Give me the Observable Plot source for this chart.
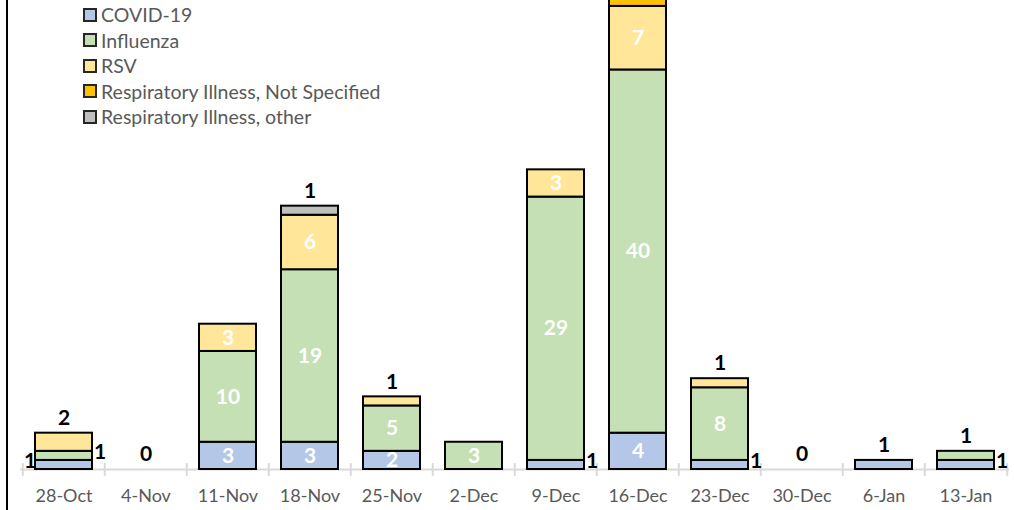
<!DOCTYPE html>
<html>
<head>
<meta charset="utf-8">
<script src="https://cdn.jsdelivr.net/npm/d3@7"></script>
<script src="https://cdn.jsdelivr.net/npm/@observablehq/plot@0.6"></script>
<style>
  html, body { margin: 0; padding: 0; background: #fff; }
  #wrap { position: relative; width: 1014px; height: 510px; overflow: hidden; font-family: Lato, "Open Sans", sans-serif; }
  #border { position: absolute; left: 6px; top: 0; width: 2px; height: 510px; background: #000; }
  #legend { position: absolute; left: 83px; top: 2px; }
  .row { display: flex; align-items: center; height: 25.5px; font-size: 19.5px; color: #595959; }
  .sw { width: 10px; height: 10px; border: 2px solid #262626; margin-right: 4px; flex: none; }
</style>
</head>
<body>
<div id="wrap"><div id="border"></div><div id="legend"></div></div>
<script>
const weeks = ["28-Oct","4-Nov","11-Nov","18-Nov","25-Nov","2-Dec","9-Dec","16-Dec","23-Dec","30-Dec","6-Jan","13-Jan"];
const seriesNames = ["COVID-19","Influenza","RSV","Respiratory Illness, Not Specified","Respiratory Illness, other"];
const seriesColors = ["#b4c7e7","#c5e0b4","#ffe699","#ffc000","#bfbfbf"];
const covid    = [1,0,3,3,2,0,1,4,1,0,1,1];
const influenza= [1,0,10,19,5,3,29,40,8,0,0,1];
const rsv      = [2,0,3,6,1,0,3,7,1,0,0,0];
const notSpec  = [0,0,0,0,0,0,0,1,0,0,0,0];
const other    = [0,0,0,1,0,0,0,0,0,0,0,0];
// labels not drawn inside their segment: [week, series index, side]
const outsideLabels = [
  ["28-Oct",0,"left"],["28-Oct",1,"right"],["28-Oct",2,"top"],
  ["4-Nov",0,"top"],["18-Nov",4,"top"],["25-Nov",2,"top"],
  ["9-Dec",0,"right"],["16-Dec",3,"none"],["23-Dec",0,"right"],["23-Dec",2,"top"],
  ["30-Dec",0,"top"],["6-Jan",0,"top"],["13-Jan",0,"right"],["13-Jan",1,"top"]
];

const allSeries = [covid, influenza, rsv, notSpec, other];
const data = [];
allSeries.forEach((vals, si) => {
  vals.forEach((v, wi) => data.push({week: weeks[wi], series: seriesNames[si], si, value: v}));
});
const outsideKey = new Set(outsideLabels.map(d => d[0] + "|" + d[1]));

function segBounds(wi, si) {
  let lo = 0;
  for (let k = 0; k < si; k++) lo += allSeries[k][wi];
  return [lo, lo + allSeries[si][wi]];
}
function total(wi) { return allSeries.reduce((s, a) => s + a[wi], 0); }
const outData = outsideLabels.map(([w, si, side]) => {
  const wi = weeks.indexOf(w);
  const [lo, hi] = segBounds(wi, si);
  return {week: w, side, value: allSeries[si][wi],
          y: side === "top" ? total(wi) : (lo + hi) / 2};
});

const x0 = 20, x1 = 1009;
const step = (x1 - x0) / weeks.length;
const font = "Lato, 'Open Sans', sans-serif";

const chart = Plot.plot({
  width: 1014,
  height: 510,
  marginLeft: x0,
  marginRight: 1014 - x1,
  marginTop: 0,
  marginBottom: 41,
  style: {background: "transparent", fontFamily: font, overflow: "hidden"},
  x: {domain: weeks, paddingInner: 0.3, paddingOuter: 0.15, label: null},
  y: {domain: [0, 51.65], range: [469, 0], axis: null},
  color: {domain: seriesNames, range: seriesColors},
  marks: [
    Plot.ruleY([0], {stroke: "#d9d9d9", strokeWidth: 2}),
    Plot.ruleX(weeks, {x: d => d, dx: -step / 2, y1: -0.75, y2: 0.65, stroke: "#d9d9d9", strokeWidth: 2}),
    Plot.ruleX([weeks[weeks.length - 1]], {x: d => d, dx: step / 2, y1: -0.75, y2: 0.65, stroke: "#d9d9d9", strokeWidth: 2}),
    Plot.barY(data.filter(d => d.value > 0), Plot.stackY({x: "week", y: "value", z: "series", fill: "series", stroke: "#000", strokeWidth: 2, order: seriesNames})),
    Plot.text(data.filter(d => d.value > 0), Plot.stackY({
      x: "week", y: "value", z: "series", order: seriesNames,
      text: d => outsideKey.has(d.week + "|" + d.si) ? null : String(d.value),
      fill: "#fff", fontSize: 21, fontWeight: "bold", lineAnchor: "middle"
    })),
    Plot.text(outData.filter(d => d.side === "top"), {x: "week", y: "y", text: d => String(d.value), dy: -15, lineAnchor: "middle", fontSize: 21, fontWeight: "bold", fill: "#000"}),
    Plot.text(outData.filter(d => d.side === "right"), {x: "week", y: "y", text: d => String(d.value), dx: 36, dy: -4, lineAnchor: "middle", fontSize: 21, fontWeight: "bold", fill: "#000"}),
    Plot.text(outData.filter(d => d.side === "left"), {x: "week", y: "y", text: d => String(d.value), dx: -34, dy: -4, lineAnchor: "middle", fontSize: 21, fontWeight: "bold", fill: "#000"}),
    Plot.axisX({tickSize: 0, tickPadding: 20, fontSize: 18, fill: "#595959", label: null})
  ]
});
const wrap = document.getElementById("wrap");
wrap.insertBefore(chart, wrap.firstChild);
chart.style.position = "absolute";
chart.style.left = "0";
chart.style.top = "0";

const legend = document.getElementById("legend");
seriesNames.forEach((name, i) => {
  const row = document.createElement("div");
  row.className = "row";
  const sw = document.createElement("span");
  sw.className = "sw";
  sw.style.background = seriesColors[i];
  const t = document.createElement("span");
  t.textContent = name;
  row.appendChild(sw); row.appendChild(t);
  legend.appendChild(row);
});
</script>
</body>
</html>
